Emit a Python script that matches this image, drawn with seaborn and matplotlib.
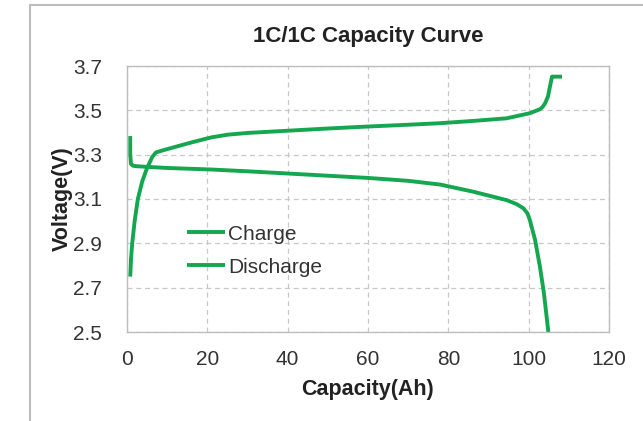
import matplotlib
matplotlib.use("Agg")
import matplotlib.pyplot as plt
import seaborn as sns
import pandas as pd
from matplotlib.patches import Rectangle

# ---- data ----
charge_cap = [0.8, 1.0, 1.3, 1.9, 2.7, 3.8, 5.0, 6.3, 7.2, 9, 12, 16, 21, 25, 30, 40, 50, 60,
              70, 78, 86, 94.5, 100.3, 102.8, 103.5, 104.1, 104.8, 105.3, 105.8, 108.3]
charge_v = [2.75, 2.83, 2.9, 3.0, 3.1, 3.18, 3.24, 3.29, 3.31, 3.32, 3.335, 3.355, 3.378, 3.39,
            3.398, 3.408, 3.418, 3.427, 3.435, 3.442, 3.452, 3.464, 3.487, 3.505, 3.516, 3.532,
            3.562, 3.607, 3.652, 3.652]
discharge_cap = [0.8, 0.8, 1.0, 1.5, 2.3, 5, 10, 21, 30, 40, 50, 60, 70, 78, 86.2, 94.5, 97.0,
                 98.7, 99.7, 100.3, 101.6, 102.8, 103.8, 104.9]
discharge_v = [3.384, 3.30, 3.258, 3.25, 3.248, 3.245, 3.24, 3.233, 3.225, 3.215, 3.205, 3.195,
               3.182, 3.165, 3.133, 3.095, 3.077, 3.058, 3.035, 3.005, 2.915, 2.795, 2.675,
               2.5]
series_names = ["Charge", "Discharge"]
x_ticks = [0, 20, 40, 60, 80, 100, 120]
y_ticks = [2.5, 2.7, 2.9, 3.1, 3.3, 3.5, 3.7]
title = "1C/1C Capacity Curve"
x_label = "Capacity(Ah)"
y_label = "Voltage(V)"

df = pd.concat([
    pd.DataFrame({"cap": charge_cap, "v": charge_v, "series": series_names[0]}),
    pd.DataFrame({"cap": discharge_cap, "v": discharge_v, "series": series_names[1]}),
], ignore_index=True)

sns.set_style("white")
plt.rcParams["font.family"] = ["Liberation Sans", "DejaVu Sans"]

green = "#15a650"
fig = plt.figure(figsize=(6.43, 4.21), dpi=100)
ax = fig.add_axes([127 / 643, 89 / 421, 482 / 643, 266 / 421])

sns.lineplot(data=df, x="cap", y="v", hue="series", sort=False,
             palette={series_names[0]: green, series_names[1]: green},
             linewidth=2.8, ax=ax, estimator=None)
for ln in ax.lines:
    ln.set_solid_joinstyle("round")
    ln.set_solid_capstyle("butt")

ax.set_xlim(0, 120)
ax.set_ylim(2.5, 3.7)
ax.set_xticks(x_ticks)
ax.set_yticks(y_ticks)
ax.set_yticklabels([f"{t:.1f}" for t in y_ticks])
ax.tick_params(axis="x", length=0, labelsize=15, colors="#333333", pad=13)
ax.tick_params(axis="y", length=0, labelsize=15, colors="#333333", pad=18)
ax.grid(True, color="#c8c8c8", linestyle=(0, (4, 3)), linewidth=0.9)
for s in ax.spines.values():
    s.set_color("#bdbdbd")
    s.set_linewidth(1.0)

ax.set_title(title, fontsize=16, fontweight="bold", color="#222222", pad=17)
ax.set_xlabel(x_label, fontsize=15.5, fontweight="bold", color="#222222", labelpad=7)
ax.set_ylabel(y_label, fontsize=15.5, fontweight="bold", color="#222222", labelpad=0)

leg = ax.legend(loc="upper left", bbox_to_anchor=(0.1245, 0.404), frameon=False,
                fontsize=15, labelspacing=0.68, handlelength=1.83, handletextpad=0.15,
                borderpad=0, borderaxespad=0)
for t in leg.get_texts():
    t.set_color("#333333")

# outer frame
fig.patches.append(Rectangle((30 / 643, -0.1), 1.2, 1.1 - 5 / 421,
                             transform=fig.transFigure, fill=False,
                             edgecolor="#bdbdbd", linewidth=1.5))

fig.savefig("out.png", dpi=100)
